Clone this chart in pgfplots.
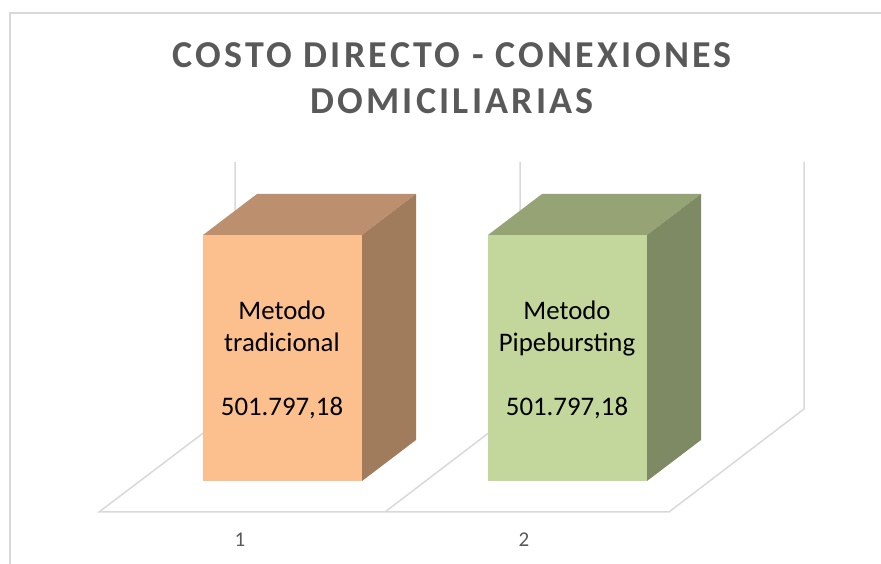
\documentclass[border=0pt]{standalone}
\usepackage{pgfplots}
\pgfplotsset{compat=1.18}
\usepackage{fontspec}
\setmainfont{Carlito}
\newfontfamily\titlefont[LetterSpace=8.5]{Carlito}
\definecolor{gridc}{HTML}{D9D9D9}
\definecolor{txt}{HTML}{595959}
\definecolor{aFront}{HTML}{FBC08E}
\definecolor{aTop}{HTML}{BC8F6E}
\definecolor{aSide}{HTML}{A07B5C}
\definecolor{bFront}{HTML}{C3D69B}
\definecolor{bTop}{HTML}{95A375}
\definecolor{bSide}{HTML}{7E8A63}
\begin{document}
\begin{tikzpicture}
\useasboundingbox (0,0) rectangle (881pt,564pt);
\begin{axis}[
  at={(0,0)}, anchor=south west,
  scale only axis, width=881pt, height=564pt,
  xmin=0, xmax=881, ymin=-169305.6, ymax=981156.3,
  clip=false,
  axis line style={draw=none},
  ymajorticks=false,
  xtick={240,524}, xticklabels={1,2},
  major tick length=0pt,
  xticklabel style={anchor=base, yshift=17pt, text=txt, font=\fontsize{21}{24}\selectfont},
]
% chart border
\addplot[gridc, line width=1.5pt, forget plot] coordinates {(10,-169305.6) (10,954646) (881,954646)};
% back walls and floor
\addplot[gridc, line width=1.5pt] coordinates {(235,650704.5) (235,146867.5) (99,-63234.6) (669,-63234.6) (804,146867.5) (804,650704.5)};
\addplot[gridc, line width=1.5pt] coordinates {(520,650704.5) (520,146867.5) (385,-63234.6)};
% bar 1
\addplot[ybar, bar shift=0pt, bar width=159, fill=aFront, draw=none] coordinates {(282.5,501797.18)};
\addplot[fill=aTop, draw=none] coordinates {(203,501797.18) (362,501797.18) (416,585430.1) (257,585430.1)} --cycle;
\addplot[fill=aSide, draw=none] coordinates {(362,0) (416,83632.9) (416,585430.1) (362,501797.18)} --cycle;
% bar 2
\addplot[ybar, bar shift=0pt, bar width=159, fill=bFront, draw=none] coordinates {(567.5,501797.18)};
\addplot[fill=bTop, draw=none] coordinates {(488,501797.18) (647,501797.18) (701,585430.1) (542,585430.1)} --cycle;
\addplot[fill=bSide, draw=none] coordinates {(647,0) (701,83632.9) (701,585430.1) (647,501797.18)} --cycle;
% title
\node[anchor=base, text=txt, font=\titlefont\fontsize{38}{42}\selectfont\bfseries, inner sep=0pt] at (axis cs:452,842448) {COSTO DIRECTO - CONEXIONES};
\node[anchor=base, text=txt, font=\titlefont\fontsize{38}{42}\selectfont\bfseries, inner sep=0pt] at (axis cs:452,748616) {DOMICILIARIAS};
% data labels
\node[anchor=base, font=\fontsize{26.8}{30}\selectfont, inner sep=0pt] at (axis cs:282,328412) {Metodo};
\node[anchor=base, font=\fontsize{26.8}{30}\selectfont, inner sep=0pt] at (axis cs:282,263138) {tradicional};
\node[anchor=base, font=\fontsize{26.8}{30}\selectfont, inner sep=0pt] at (axis cs:282,132589) {501.797,18};
\node[anchor=base, font=\fontsize{26.8}{30}\selectfont, inner sep=0pt] at (axis cs:567,328412) {Metodo};
\node[anchor=base, font=\fontsize{26.8}{30}\selectfont, inner sep=0pt] at (axis cs:567,263138) {Pipebursting};
\node[anchor=base, font=\fontsize{26.8}{30}\selectfont, inner sep=0pt] at (axis cs:567,132589) {501.797,18};
\end{axis}
\end{tikzpicture}
\end{document}
